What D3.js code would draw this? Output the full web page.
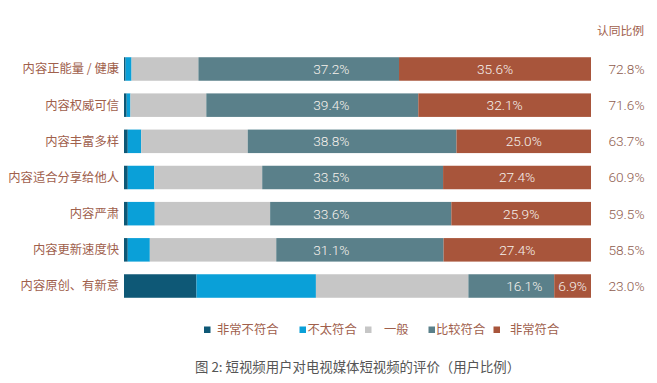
<!DOCTYPE html>
<html><head><meta charset="utf-8">
<script src="https://cdn.jsdelivr.net/npm/d3@7"></script>
<style>body{margin:0;background:#fff}svg{display:block}</style>
</head><body><svg id="c" width="657" height="383"></svg>
<script>
const categories = ["内容正能量 / 健康","内容权威可信","内容丰富多样","内容适合分享给他人","内容严肃","内容更新速度快","内容原创、有新意"];
const seriesNames = ["非常不符合","不太符合","一般","比较符合","非常符合"];
const veryNot  = [0.3, 0.5, 0.7, 0.7, 0.7, 0.7, 13.6];
const notQuite = [1.1, 0.7, 2.5, 4.9, 5.0, 4.1, 22.4];
const neutral  = [12.4, 14.1, 19.8, 20.0, 21.4, 23.5, 28.6];
const fairly   = [37.2, 39.4, 38.8, 33.5, 33.6, 31.1, 16.1];
const very     = [35.6, 32.1, 25.0, 27.4, 25.9, 27.4, 6.9];
const agreeLabels = ["72.8%","71.6%","63.7%","60.9%","59.5%","58.5%","23.0%"];
const agreeTitle = "认同比例";
const chartTitle = "图 2: 短视频用户对电视媒体短视频的评价（用户比例）";

const colors = ["#0e5876","#0aa0d8","#c6c6c6","#5a808a","#a8553b"];
const labelColor = "#a0604c";
const series = [veryNot, notQuite, neutral, fairly, very];

const svg = d3.select("#c");
const cjk = "'Noto Sans CJK SC','Noto Sans',sans-serif";
const num = "Roboto,'Liberation Sans',sans-serif";

const y = d3.scaleBand().domain(categories).range([50.9, 304.1]).paddingInner(0.35).paddingOuter(0.175);
const x0 = 124, x1 = 591;
const fixedLabelX = d3.scaleLinear().domain([0,1]).range([x0,x1])(0.444);

categories.forEach((cat, i) => {
  const vals = series.map(s => s[i]);
  const total = d3.sum(vals);
  const x = d3.scaleLinear().domain([0,total]).range([x0,x1]);
  let acc = 0;
  const segs = vals.map((v,k) => { const s = {k, v, a: acc, b: acc+v}; acc += v; return s; });
  const g = svg.append("g");
  g.selectAll("rect").data(segs).join("rect")
    .attr("x", d => x(d.a)).attr("width", d => Math.max(0, x(d.b)-x(d.a)))
    .attr("y", y(cat)).attr("height", y.bandwidth())
    .attr("fill", d => colors[d.k]);
  const cy = y(cat) + y.bandwidth()/2;
  segs.filter(d => d.k >= 3).forEach(d => {
    const xa = x(d.a), xb = x(d.b);
    let tx = (xa+xb)/2;
    if (d.k === 3) tx = (fixedLabelX > xa+25 && fixedLabelX < xb-25) ? fixedLabelX : xb-30;
    g.append("text").attr("x", tx).attr("y", cy).attr("dy","0.36em")
      .attr("text-anchor","middle").attr("fill","#f6f1ec")
      .style("font-family", num).style("font-weight",300).style("font-size","13.7px")
      .text(d.v.toFixed(1) + "%");
  });
  svg.append("text").attr("x", 119).attr("y", cy).attr("dy","0.36em")
    .attr("text-anchor","end").attr("fill", labelColor)
    .style("font-family", cjk).style("font-size","12.3px").text(cat);
  svg.append("text").attr("x", 626.5).attr("y", cy).attr("dy","0.36em")
    .attr("text-anchor","middle").attr("fill","#8e5c4e")
    .style("font-family", num).style("font-weight",300).style("font-size","13.7px")
    .text(agreeLabels[i]);
});

svg.append("text").attr("x", 620.5).attr("y", 30.5).attr("dy","0.36em")
  .attr("text-anchor","middle").attr("fill", labelColor)
  .style("font-family", cjk).style("font-size","11.8px").text(agreeTitle);

// legend
const legX = [204, 299.5, 365, 428.5, 493.5];
const legTextX = [217, 307.5, 384, 436, 510];
seriesNames.forEach((n,k) => {
  svg.append("rect").attr("x", legX[k]).attr("y", 326.5).attr("width", 6.5).attr("height", 6.5).attr("fill", colors[k]);
  svg.append("text").attr("x", legTextX[k]).attr("y", 330).attr("dy","0.36em")
    .attr("fill", labelColor).style("font-family", cjk).style("font-size","12.3px").text(n);
});

svg.append("text").attr("x", 195).attr("y", 367).attr("dy","0.36em")
  .attr("fill","#555").style("font-family", cjk).style("font-size","13.4px").style("font-weight",400)
  .text(chartTitle);
</script></body></html>
